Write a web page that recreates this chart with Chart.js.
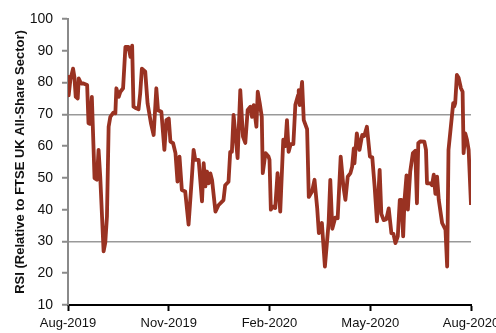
<!DOCTYPE html>
<html>
<head>
<meta charset="utf-8">
<script src="https://cdn.jsdelivr.net/npm/chart.js@4"></script>
<style>
  html, body { margin: 0; padding: 0; background: #fff; overflow: hidden; }
</style>
</head>
<body>
<canvas id="myChart" width="496" height="333"></canvas>
<script>
// eje x: meses desde Aug-2019
const meses = [
  0, 0.02, 0.07, 0.15, 0.19, 0.23, 0.29, 0.32, 0.39, 0.46, 0.57, 0.61, 0.66, 0.71, 0.79, 0.86, 0.91, 0.96,
  1.06, 1.11, 1.16, 1.21, 1.26, 1.35, 1.41, 1.44, 1.51, 1.56, 1.64, 1.71, 1.80, 1.86, 1.91, 1.95,
  2.03, 2.10, 2.15, 2.20, 2.30, 2.37, 2.47, 2.55, 2.63, 2.68, 2.78, 2.87, 2.93, 3.00,
  3.05, 3.13, 3.20, 3.26, 3.32, 3.39, 3.49, 3.59, 3.69, 3.74, 3.79, 3.89, 3.99,
  4.04, 4.09, 4.14, 4.19, 4.24, 4.29, 4.39, 4.48, 4.63, 4.68, 4.78, 4.83, 4.88, 4.93,
  5.05, 5.13, 5.21, 5.28, 5.35, 5.43, 5.48, 5.53, 5.61, 5.65, 5.71, 5.77, 5.80, 5.88, 5.97,
  6.00, 6.04, 6.09, 6.17, 6.24, 6.32, 6.41, 6.47, 6.52, 6.57, 6.63, 6.71, 6.77, 6.85, 6.87, 6.90, 6.97,
  7.02, 7.12, 7.17, 7.27, 7.34, 7.42, 7.47, 7.56, 7.65, 7.76, 7.81, 7.87, 7.96,
  8.03, 8.12, 8.20, 8.26, 8.33, 8.41, 8.46, 8.51, 8.53, 8.60, 8.68, 8.76, 8.82, 8.90, 8.99,
  9.06, 9.13, 9.20, 9.28, 9.33, 9.40, 9.48, 9.55, 9.63, 9.69, 9.75, 9.82, 9.88, 9.93, 9.98, 10.02,
  10.08, 10.12, 10.19, 10.27, 10.34, 10.39, 10.43, 10.49, 10.61, 10.66, 10.69, 10.79, 10.84, 10.89, 10.94, 10.99,
  11.04, 11.14, 11.24, 11.29, 11.33, 11.41, 11.47, 11.50, 11.53, 11.58, 11.63, 11.70, 11.75, 11.78, 11.83, 11.88, 11.93, 12.0
];
const rsi = [
  81.8, 76, 80.8, 84.4, 81.8, 75.5, 75, 81.3, 79.7, 79.7, 79.2, 67.2, 67, 75.5, 49.9, 49.4, 58.8, 50.4,
  26.9, 29.6, 37.9, 66.1, 69.2, 70.5, 70.3, 78.2, 75.5, 77.1, 78.2, 91.2, 91.2, 88.1, 91.6, 72.4,
  71.9, 71.6, 76.6, 84.4, 83.4, 73.4, 67.2, 63.5, 78.2, 71.3, 70.8, 58.8, 68.2, 68.7,
  61.4, 60.9, 57.8, 48.8, 56.7, 46.2, 45.7, 35.3, 50.4, 58.8, 55.7, 55.7, 42.6,
  54.6, 47.3, 52, 48.3, 51.4, 49.3, 39.4, 41.4, 43, 47.7, 48.8, 58.2, 58.2, 69.8,
  56.2, 77.6, 63, 61, 71.4, 72.4, 69.2, 72.9, 66.1, 77.1, 73.5, 69.2, 51.5, 57.8, 56.7,
  55.7, 40, 41, 40.5, 51.5, 39.4, 62, 60, 68.2, 58.2, 60.6, 60.6, 73, 76, 77.6, 72.9, 80.2,
  68.2, 65.3, 44, 45.8, 49.4, 40.5, 32.6, 35.8, 22.1, 35.8, 49.4, 34, 37.5,
  37.3, 56.7, 47.3, 43.1, 50.4, 51.5, 53.5, 59.3, 54.6, 64, 58.8, 63.5, 63.2, 66.1, 56.7,
  56.5, 47.3, 36.3, 52.5, 38.7, 36.7, 37, 40.4, 32.6, 32.4, 29.5, 31.6, 43.1, 43.1, 31.6, 43,
  50.8, 40, 52, 57.8, 58.5, 42, 60.9, 61.5, 61.4, 58.8, 48.3, 48.3, 47.7, 51, 45, 50.4,
  43.1, 35.8, 33.7, 22.1, 58.8, 67.2, 73.5, 72.5, 73.5, 82.4, 81.5, 78.2, 77.1, 57.8, 64, 62, 58.8, 41.5
];
const etiquetasX = ['Aug-2019', 'Nov-2019', 'Feb-2020', 'May-2020', 'Aug-2020'];
const lineasGuia = [30, 70];

const puntos = meses.map((m, i) => ({ x: m, y: rsi[i] }));

const config = {
  type: 'line',
  data: {
    datasets: [{
      label: 'RSI',
      data: puntos,
      borderColor: '#993222',
      borderWidth: 3.8,
      borderJoinStyle: 'round',
      pointRadius: 0,
      tension: 0,
      fill: false
    }]
  },
  options: {
    responsive: false,
    animation: false,
    devicePixelRatio: 1,
    layout: { padding: { top: 19, left: 0, right: 0, bottom: 0 } },
    plugins: { legend: { display: false }, tooltip: { enabled: false } },
    scales: {
      x: {
        type: 'linear',
        min: 0,
        max: 12,
        afterBuildTicks: (s) => { s.ticks = etiquetasX.map((t, i) => ({ value: i * 3 })); },
        afterFit: (s) => { s.height = 28; s.paddingRight = 25; s.paddingLeft = 0; },
        ticks: {
          callback: (v) => etiquetasX[Math.round(v / 3)],
          font: { family: 'Liberation Sans', size: 13 },
          color: '#111',
          padding: 5,
          maxRotation: 0,
          autoSkip: false
        },
        grid: { drawOnChartArea: false, tickLength: 6, tickColor: '#000', tickWidth: 2 },
        border: { color: '#000', width: 2 }
      },
      y: {
        min: 10,
        max: 100,
        afterFit: (s) => { s.width = 68; },
        ticks: {
          stepSize: 10,
          font: { family: 'Liberation Sans', size: 14 },
          color: '#111',
          padding: 9
        },
        grid: {
          color: (ctx) => lineasGuia.includes(ctx.tick && ctx.tick.value) ? '#999' : 'rgba(0,0,0,0)',
          lineWidth: 1.5,
          tickLength: 6,
          tickColor: '#8a8a8a',
          tickWidth: 2
        },
        border: { color: '#8a8a8a', width: 2 },
        title: {
          display: true,
          text: 'RSI (Relative to FTSE UK All-Share Sector)',
          font: { family: 'Liberation Sans', size: 13, weight: 'bold' },
          color: '#111',
          padding: { top: 13, bottom: 0 }
        }
      }
    }
  }
};

new Chart(document.getElementById('myChart'), config);
</script>
</body>
</html>
